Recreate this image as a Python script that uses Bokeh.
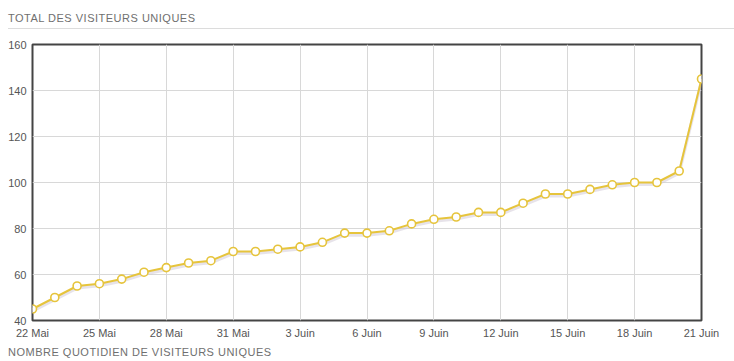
from bokeh.plotting import figure
from bokeh.models import Div, FixedTicker, ColumnDataSource, CustomJSTransform
from bokeh.layouts import column
from bokeh.transform import transform
from bokeh.embed import file_html
from bokeh.resources import INLINE

# ---- data ----
title_text = "TOTAL DES VISITEURS UNIQUES"
footer_text = "NOMBRE QUOTIDIEN DE VISITEURS UNIQUES"
day_index = list(range(31))  # days since 22 Mai
visitors = [45, 50, 55, 56, 58, 61, 63, 65, 66, 70,
            70, 71, 72, 74, 78, 78, 79, 82, 84, 85,
            87, 87, 91, 95, 95, 97, 99, 100, 100, 105, 145]
tick_days = [0, 3, 6, 9, 12, 15, 18, 21, 24, 27, 30]
tick_labels = ["22 Mai", "25 Mai", "28 Mai", "31 Mai", "3 Juin", "6 Juin",
               "9 Juin", "12 Juin", "15 Juin", "18 Juin", "21 Juin"]
y_ticks = [40, 60, 80, 100, 120, 140, 160]

FONT = "Liberation Sans"
LINE_COLOR = "#e6c43c"
W = 734

src = ColumnDataSource(data=dict(x=day_index, y=visitors))

header = Div(
    text=(f'<div style="font-family:\'{FONT}\',Arial,sans-serif;font-size:11px;'
          f'letter-spacing:0.5px;color:#6f6f6f;box-sizing:border-box;height:29px;'
          f'padding-top:13px;line-height:11px;margin-left:8px;'
          f'border-bottom:1px solid #dcdcdc;width:{W - 8}px;white-space:nowrap;">{title_text}</div>'),
    width=W, height=29, margin=0)

p = figure(width=W, height=313, output_backend="svg", toolbar_location=None,
           x_range=(0, 30), y_range=(40, 160),
           min_border_left=32, min_border_right=33, min_border_top=15, min_border_bottom=22)
p.background_fill_color = "white"
p.border_fill_color = "white"
p.outline_line_color = "#444444"
p.outline_line_width = 2

p.xaxis.ticker = FixedTicker(ticks=tick_days)
p.xaxis.major_label_overrides = {d: lab for d, lab in zip(tick_days, tick_labels)}
p.yaxis.ticker = FixedTicker(ticks=y_ticks)
for ax in (p.xaxis[0], p.yaxis[0]):
    ax.axis_line_color = None
    ax.major_tick_line_color = None
    ax.minor_tick_line_color = None
    ax.major_tick_out = 0
    ax.major_tick_in = 0
    ax.major_label_text_font = FONT
    ax.major_label_text_font_size = "11px"
    ax.major_label_text_color = "#555555"
p.xaxis.major_label_standoff = 6
p.yaxis.major_label_standoff = 6

p.xgrid.grid_line_color = "#d8d8d8"
p.ygrid.grid_line_color = "#d8d8d8"
p.xgrid.grid_line_width = 1
p.ygrid.grid_line_width = 1

# shadow below the line (shifted down ~2px on screen)
shift = CustomJSTransform(v_func="return xs.map(v => v - 0.9)")
p.line(x="x", y=transform("y", shift), source=src, line_color="#cfc8d6",
       line_width=3, line_alpha=0.5)
p.line(x="x", y="y", source=src, line_color=LINE_COLOR, line_width=2)
p.scatter(x="x", y="y", source=src, size=8, fill_color="white",
          line_color=LINE_COLOR, line_width=1.6)

footer = Div(
    text=(f'<div style="font-family:\'{FONT}\',Arial,sans-serif;font-size:11px;'
          f'letter-spacing:0.5px;color:#6f6f6f;padding-top:5px;padding-left:8px;line-height:11px;'
          f'white-space:nowrap;">{footer_text}</div>'),
    width=W, height=19, margin=0)

layout = column(header, p, footer, spacing=0)
open("out.html", "w").write(file_html(layout, INLINE))
